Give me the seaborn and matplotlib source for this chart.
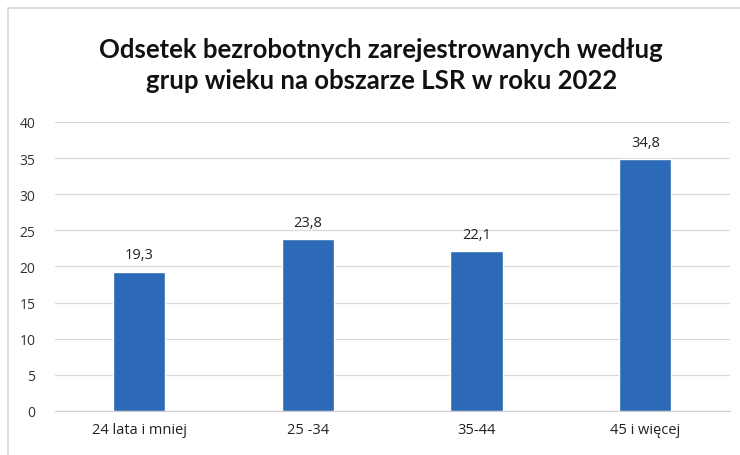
import pandas as pd
import matplotlib.pyplot as plt
import seaborn as sns
from matplotlib.patches import Rectangle

# Data
age_groups = ['24 lata i mniej', '25 -34', '35-44', '45 i więcej']
share = [19.3, 23.8, 22.1, 34.8]
value_labels = ['19,3', '23,8', '22,1', '34,8']
y_ticks = [0, 5, 10, 15, 20, 25, 30, 35, 40]

df = pd.DataFrame({'grupa': age_groups, 'odsetek': share})

sns.set_style('white')
plt.rcParams['font.family'] = ['Open Sans', 'DejaVu Sans']

fig = plt.figure(figsize=(7.4, 4.56), dpi=100)
fig.patch.set_facecolor('white')

# light frame like the original chart box
fig.patches.append(Rectangle((0.011, -0.01), 1.0, 0.99, transform=fig.transFigure,
                             fill=False, edgecolor='#d6d6d6', linewidth=1.2))

ax = fig.add_axes([0.074, 0.0965, 0.912, 0.634])
sns.barplot(data=df, x='grupa', y='odsetek', color='#2C69B6', width=0.31,
            saturation=1, ax=ax, zorder=3)

ax.set_ylim(0, 40)
ax.set_yticks(y_ticks)
ax.set_yticklabels([str(t) for t in y_ticks], fontsize=10, color='#333333')
ax.tick_params(axis='x', labelsize=10.5, colors='#222222', length=0, pad=8)
ax.tick_params(axis='y', length=0, pad=14)
ax.yaxis.grid(True, color='#d9d9d9', linewidth=0.9, zorder=0)
ax.set_xlabel('')
ax.set_ylabel('')
for s in ['top', 'right', 'left']:
    ax.spines[s].set_visible(False)
ax.spines['bottom'].set_color('#cfcfcf')

for bar, lab in zip(ax.patches, value_labels):
    ax.text(bar.get_x() + bar.get_width() / 2, bar.get_height() + 1.3, lab,
            ha='center', va='bottom', fontsize=10.5, color='#222222')

fig.text(0.515, 0.857, 'Odsetek bezrobotnych zarejestrowanych według\ngrup wieku na obszarze LSR w roku 2022',
         ha='center', va='center', fontsize=18.5, fontweight='bold',
         linespacing=1.33, color='#111111', family=['Lato', 'DejaVu Sans'])

plt.savefig('out.png', dpi=100)
